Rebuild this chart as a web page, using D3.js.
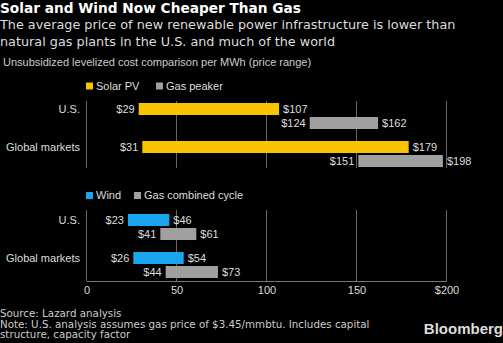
<!DOCTYPE html>
<html>
<head>
<meta charset="utf-8">
<script src="https://cdn.jsdelivr.net/npm/d3@7"></script>
<style>
  html, body { margin: 0; padding: 0; background: #000; }
  svg { display: block; }
</style>
</head>
<body>
<script>
// cost ranges, $ per MWh
const regions = ["U.S.", "Global markets"];
const solarLow = [29, 31];
const solarHigh = [107, 179];
const peakerLow = [124, 151];
const peakerHigh = [162, 198];
const windLow = [23, 26];
const windHigh = [46, 54];
const combinedLow = [41, 44];
const combinedHigh = [61, 73];
const tickValues = [0, 50, 100, 150, 200];
const tickLabels = ["0", "50", "100", "150", "$200"];

const W = 503, H = 343;
const sans = "'Liberation Sans', Arial, sans-serif";
const deja = "'DejaVu Sans', Verdana, sans-serif";

const svg = d3.select("body").append("svg").attr("width", W).attr("height", H);
svg.append("rect").attr("width", W).attr("height", H).attr("fill", "#000");

// headings
svg.append("text").attr("x", 0).attr("y", 13)
  .attr("font-family", deja).attr("font-weight", "bold").attr("font-size", 13.7)
  .attr("fill", "#fff").text("Solar and Wind Now Cheaper Than Gas");
const sub = ["The average price of new renewable power infrastructure is lower than",
  "natural gas plants in the U.S. and much of the world"];
svg.selectAll(".sub").data(sub).enter().append("text")
  .attr("x", 0).attr("y", (d, i) => 29 + i * 17)
  .attr("font-family", deja).attr("font-size", 12.8).attr("fill", "#ddd")
  .text(d => d);
svg.append("text").attr("x", 3).attr("y", 66)
  .attr("font-family", sans).attr("font-size", 11).attr("fill", "#ccc")
  .text("Unsubsidized levelized cost comparison per MWh (price range)");

const x = d3.scaleLinear().domain([0, 200]).range([86.5, 446.5]);
const barH = 12, gasOff = 14;

function panel(cfg) {
  const y = d3.scaleBand().domain(regions).range([cfg.top, cfg.top + 76]);
  const g = svg.append("g");

  // gridlines
  g.selectAll(".grid").data(tickValues).enter().append("line")
    .attr("x1", d => x(d)).attr("x2", d => x(d))
    .attr("y1", cfg.gridTop).attr("y2", cfg.gridBottom)
    .attr("stroke", "#666").attr("stroke-width", 1);

  // legend
  const leg = g.selectAll(".leg").data(cfg.legend).enter().append("g")
    .attr("transform", d => `translate(${d.x},${cfg.legendY})`);
  leg.append("rect").attr("x", 0).attr("y", -3.5).attr("width", 7).attr("height", 7)
    .attr("fill", d => d.color);
  leg.append("text").attr("x", 10).attr("y", 0).attr("dy", "0.35em")
    .attr("font-family", sans).attr("font-size", 11).attr("fill", "#ddd")
    .text(d => d.name);

  // region labels
  g.selectAll(".reg").data(regions).enter().append("text")
    .attr("x", 80).attr("y", d => y(d) + barH / 2).attr("dy", "0.35em")
    .attr("text-anchor", "end").attr("font-family", sans).attr("font-size", 11)
    .attr("fill", "#ddd").text(d => d);

  cfg.series.forEach(s => {
    const rows = regions.map((r, i) => ({ r, lo: s.low[i], hi: s.high[i] }));
    const yy = d => y(d.r) + s.off;
    g.selectAll(null).data(rows).enter().append("rect")
      .attr("x", d => x(d.lo)).attr("y", yy)
      .attr("width", d => x(d.hi) - x(d.lo)).attr("height", barH)
      .attr("fill", s.color);
    g.selectAll(null).data(rows).enter().append("text")
      .attr("x", d => x(d.lo) - 4).attr("y", d => yy(d) + barH / 2).attr("dy", "0.35em")
      .attr("text-anchor", "end").attr("font-family", sans).attr("font-size", 11)
      .attr("fill", "#ddd").text(d => "$" + d.lo);
    g.selectAll(null).data(rows).enter().append("text")
      .attr("x", d => x(d.hi) + 4).attr("y", d => yy(d) + barH / 2).attr("dy", "0.35em")
      .attr("font-family", sans).attr("font-size", 11)
      .attr("fill", "#ddd").text(d => "$" + d.hi);
  });
  return g;
}

panel({
  top: 103, gridTop: 101, gridBottom: 168, legendY: 86,
  legend: [{ name: "Solar PV", color: "#f9c300", x: 86 }, { name: "Gas peaker", color: "#a0a0a0", x: 156 }],
  series: [
    { low: solarLow, high: solarHigh, color: "#f9c300", off: 0 },
    { low: peakerLow, high: peakerHigh, color: "#a0a0a0", off: gasOff }
  ]
});

panel({
  top: 214, gridTop: 210, gridBottom: 281, legendY: 195.5,
  legend: [{ name: "Wind", color: "#1aa6ee", x: 86 }, { name: "Gas combined cycle", color: "#a0a0a0", x: 134 }],
  series: [
    { low: windLow, high: windHigh, color: "#1aa6ee", off: 0 },
    { low: combinedLow, high: combinedHigh, color: "#a0a0a0", off: gasOff }
  ]
});

// bottom axis
const axis = svg.append("g").attr("transform", "translate(0,281)")
  .call(d3.axisBottom(x).tickValues(tickValues).tickSize(0).tickPadding(5)
    .tickFormat((d, i) => tickLabels[i]));
axis.select(".domain").attr("stroke", "#777");
axis.selectAll("text").attr("font-family", sans).attr("font-size", 11).attr("fill", "#ddd");

// footer
const foot = ["Source: Lazard analysis",
  "Note: U.S. analysis assumes gas price of $3.45/mmbtu. Includes capital",
  "structure, capacity factor"];
svg.selectAll(".foot").data(foot).enter().append("text")
  .attr("x", 0).attr("y", (d, i) => 317 + i * 10.5)
  .attr("font-family", deja).attr("font-size", 10.3).attr("fill", "#ccc")
  .text(d => d);
svg.append("text").attr("x", 503).attr("y", 334).attr("text-anchor", "end")
  .attr("font-family", sans).attr("font-weight", "bold").attr("font-size", 15)
  .attr("fill", "#ddd").text("Bloomberg");
</script>
</body>
</html>
